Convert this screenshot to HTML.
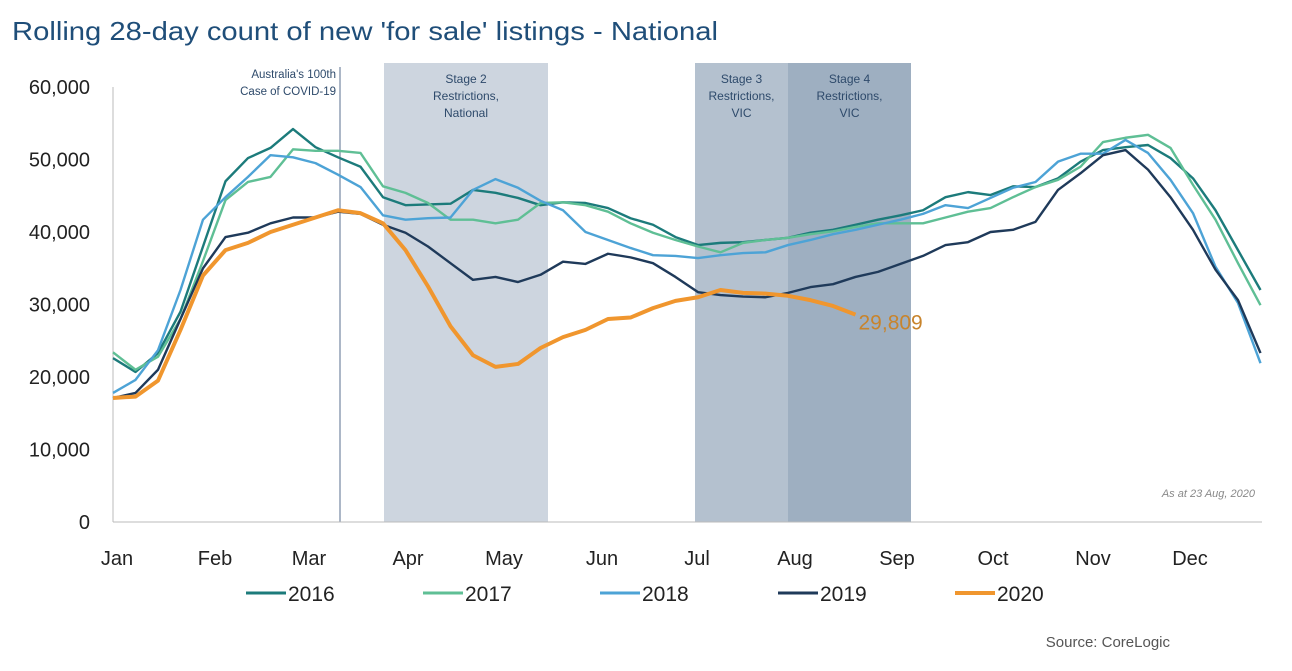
<!DOCTYPE html>
<html><head><meta charset="utf-8"><style>
html,body{margin:0;padding:0;background:#fff;width:1292px;height:671px;overflow:hidden;font-family:"Liberation Sans",sans-serif}
</style></head><body>
<svg id="chart" width="1292" height="671" xmlns="http://www.w3.org/2000/svg">
<text x="12" y="40" font-size="26" fill="#1f4e79" textLength="706" lengthAdjust="spacingAndGlyphs">Rolling 28-day count of new 'for sale' listings - National</text>
<g id="bands"></g>
<g id="axes"></g>
<g id="series"></g>
<g id="legend"></g>
<text x="1255" y="497" font-size="11" font-style="italic" fill="#888" text-anchor="end">As at 23 Aug, 2020</text>
<text x="1170" y="647" font-size="15" fill="#555" text-anchor="end">Source: CoreLogic</text>
</svg>
<script>
const months = ["Jan","Feb","Mar","Apr","May","Jun","Jul","Aug","Sep","Oct","Nov","Dec"];
const monthX = [117,215,309,408,504,602,697,795,897,993,1093,1190];
const yTicks = [0,10000,20000,30000,40000,50000,60000];
const years = ["2016","2017","2018","2019","2020"];
const colors = ["#1c7b7b","#5fbf95","#4da3d6","#1f3a5a","#f0962e"];
const s2016 = [22.6,20.7,23.3,29,38,47,50.2,51.6,54.2,51.7,50.3,49,44.8,43.7,43.8,43.9,45.8,45.4,44.7,43.7,44.1,44,43.3,41.9,41,39.3,38.2,38.5,38.6,38.9,39.2,39.9,40.3,41,41.7,42.3,43,44.8,45.5,45.1,46.3,46.2,47.4,49.7,51.3,51.7,52,50.2,47.4,43,37.5,32];
const s2017 = [23.4,21,22.8,28,36,44.4,46.9,47.6,51.4,51.2,51.2,50.9,46.3,45.4,44,41.7,41.7,41.2,41.7,44,44.1,43.7,42.8,41.2,39.9,38.9,38,37.2,38.5,38.9,39.2,39.7,40.1,40.7,41.2,41.2,41.2,42,42.8,43.3,44.8,46.2,47.2,49,52.4,53,53.4,51.6,46.5,41.7,35.7,29.9];
const s2018 = [17.8,19.6,23.7,32,41.7,44.8,47.6,50.6,50.3,49.5,47.9,46.2,42.3,41.7,41.9,42,45.8,47.3,46.1,44.3,43,40,38.9,37.8,36.8,36.7,36.4,36.8,37.1,37.2,38.2,38.9,39.7,40.3,41,41.7,42.5,43.7,43.3,44.7,46.1,46.9,49.7,50.8,50.8,52.7,50.9,47.2,42.6,35.2,30.2,21.9];
const s2019 = [17.1,17.8,21,28,35,39.3,39.9,41.2,42,42,42.8,42.5,41,39.9,38,35.7,33.4,33.8,33.1,34.1,35.9,35.6,37,36.5,35.7,33.8,31.7,31.3,31.1,31,31.6,32.4,32.8,33.8,34.5,35.6,36.7,38.2,38.6,40,40.3,41.4,45.8,48.1,50.6,51.3,48.6,44.8,40.3,34.8,30.6,23.3];
const s2020 = [17.1,17.3,19.5,26.5,34,37.5,38.5,40,41,42,43,42.6,41.2,37.5,32.5,27,23,21.4,21.8,24,25.5,26.5,28,28.2,29.5,30.5,31,32,31.6,31.5,31.2,30.6,29.8,28.6];
const seriesList = [s2016,s2017,s2018,s2019,s2020];
const lastLabel = "29,809";
const NS="http://www.w3.org/2000/svg";
const X0=113, STEP=22.5, Y0=522, YK=435/60000;
const xs = i => X0 + STEP*i;
const ys = v => Y0 - v*1000*YK;
function mk(tag, attrs, parent){const e=document.createElementNS(NS,tag);for(const k in attrs)e.setAttribute(k,attrs[k]);parent.appendChild(e);return e;}
const bands=document.getElementById('bands'), axes=document.getElementById('axes'), ser=document.getElementById('series'), leg=document.getElementById('legend');
const bandDefs=[[384,548,"#cdd5df",["Stage 2","Restrictions,","National"],"stage2-band"],[695,788,"#b4c1cf",["Stage 3","Restrictions,","VIC"],"stage3-band"],[788,911,"#9eafc1",["Stage 4","Restrictions,","VIC"],"stage4-band"]];
bandDefs.forEach(b=>{
  const r=mk('rect',{x:b[0],y:63,width:b[1]-b[0],height:Y0-63,fill:b[2]},bands);
  
  
  b[3].forEach((t,j)=>{const tx=mk('text',{x:(b[0]+b[1])/2,y:83+j*17,'font-size':12,fill:'#2e4a6b','text-anchor':'middle'},bands);tx.textContent=t;
    
    });
});
const cl=mk('line',{x1:340,y1:67,x2:340,y2:Y0,stroke:'#5a6f8f','stroke-width':1},bands);


["Australia's 100th","Case of COVID-19"].forEach((t,j)=>{const tx=mk('text',{x:336,y:78+j*17,'font-size':11.5,fill:'#2e4a6b','text-anchor':'end'},bands);tx.textContent=t;
  
  });
const ya=mk('line',{x1:X0,y1:87,x2:X0,y2:Y0,stroke:'#bbb','stroke-width':1},axes);


const xa=mk('line',{x1:X0,y1:Y0,x2:1262,y2:Y0,stroke:'#bbb','stroke-width':1},axes);


yTicks.forEach(v=>{const t=mk('text',{x:90,y:ys(v/1000)+7,'font-size':20,fill:'#222','text-anchor':'end'},axes);t.textContent=v.toLocaleString('en-US');
  
  });
months.forEach((m,i)=>{const t=mk('text',{x:monthX[i],y:565,'font-size':20,fill:'#222','text-anchor':'middle'},axes);t.textContent=m;
  
  });
seriesList.forEach((s,k)=>{
  const p=mk('polyline',{points:s.map((v,i)=>xs(i)+','+ys(v)).join(' '),fill:'none',stroke:colors[k],'stroke-width':k==4?4:2.4,'stroke-linejoin':'round'},ser);
  
  
});
const li=s2020.length-1;
const lt=mk('text',{x:xs(li)+3,y:ys(s2020[li])+15,'font-size':21,fill:'#c8842c'},ser);lt.textContent=lastLabel;


const legX=[246,423,600,778,955];
years.forEach((y,k)=>{
  const g=mk('g',{},leg);
  
  
  mk('line',{x1:legX[k],y1:593,x2:legX[k]+40,y2:593,stroke:colors[k],'stroke-width':k==4?4:3},g);
  const t=mk('text',{x:legX[k]+42,y:601,'font-size':21,fill:'#222'},g);t.textContent=y;
});
</script>
</body></html>
